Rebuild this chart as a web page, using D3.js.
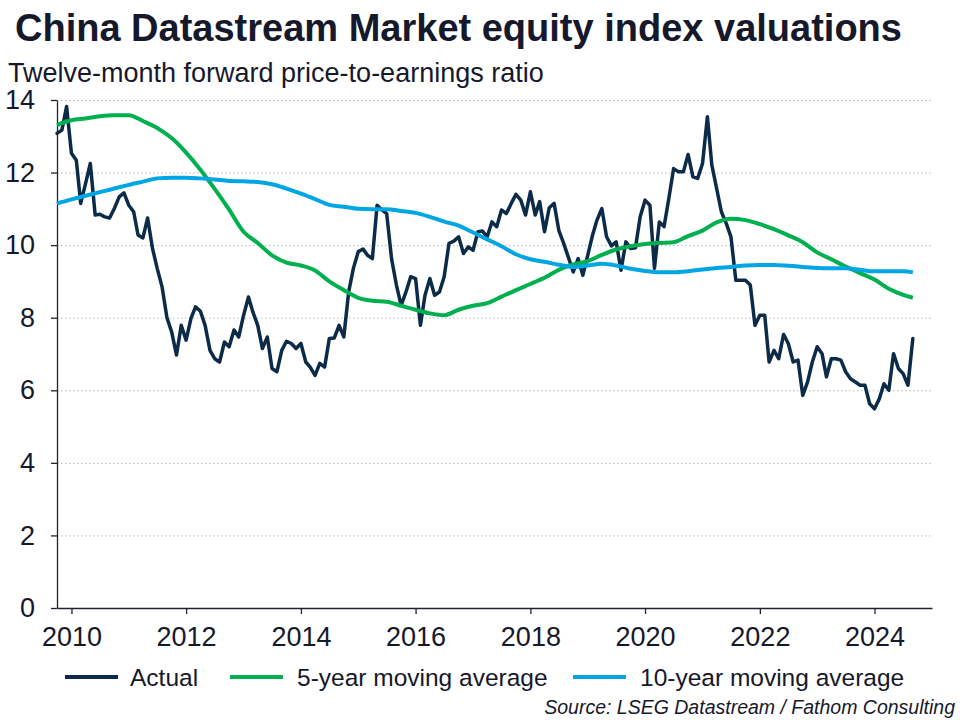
<!DOCTYPE html>
<html>
<head>
<meta charset="utf-8">
<script src="https://cdn.jsdelivr.net/npm/d3@7"></script>
<style>
  html, body { margin: 0; padding: 0; background: #ffffff; }
  svg { display: block; }
  text { font-family: "Liberation Sans", Arial, sans-serif; }
</style>
</head>
<body>
<svg id="chart" width="960" height="720"></svg>
<script>
// ---------------- DATA ----------------
const titleText = "China Datastream Market equity index valuations";
const subtitleText = "Twelve-month forward price-to-earnings ratio";
const sourceText = "Source: LSEG Datastream / Fathom Consulting";
const seriesNames = ["Actual", "5-year moving average", "10-year moving average"];
const seriesColors = ["#0c2b48", "#00b04f", "#00a6e4"];

// monthly, starting October 2009
const startYear = 2009, startMonth = 9;
const actual = [
  13.08, 13.17, 13.82, 12.53, 12.34, 11.15, 11.70, 12.25, 10.83, 10.85,
  10.78, 10.75, 11.01, 11.33, 11.44, 11.10, 10.92, 10.28, 10.20, 10.75,
  9.91, 9.36, 8.85, 8.00, 7.61, 6.97, 7.79, 7.38, 7.98, 8.30,
  8.18, 7.79, 7.10, 6.87, 6.78, 7.33, 7.20, 7.66, 7.47, 8.07,
  8.57, 8.16, 7.79, 7.15, 7.47, 6.60, 6.51, 7.10, 7.35, 7.29,
  7.15, 7.29, 6.78, 6.64, 6.41, 6.74, 6.64, 7.43, 7.44, 7.79,
  7.47, 8.71, 9.36, 9.82, 9.89, 9.72, 9.63, 11.10, 10.97, 10.87,
  9.63, 8.90, 8.34, 8.71, 9.13, 9.08, 7.79, 8.62, 9.08, 8.62,
  8.71, 9.13, 10.05, 10.11, 10.23, 9.77, 9.95, 9.86, 10.37, 10.39,
  10.23, 10.64, 10.51, 10.97, 10.87, 11.15, 11.40, 11.24, 10.83, 11.47,
  10.83, 11.20, 10.37, 11.03, 11.15, 10.41, 10.05, 9.65, 9.26, 9.63,
  9.17, 9.72, 10.28, 10.69, 11.01, 10.23, 9.98, 10.09, 9.31, 10.09,
  9.91, 9.93, 10.78, 11.24, 11.10, 9.36, 10.64, 10.51, 11.30, 12.11,
  12.02, 12.02, 12.50, 11.88, 11.84, 12.25, 13.54, 12.21, 11.56, 10.92,
  10.60, 10.23, 9.03, 9.03, 9.03, 8.90, 7.79, 8.07, 8.07, 6.78,
  7.10, 6.87, 7.54, 7.29, 6.78, 6.83, 5.86, 6.23, 6.78, 7.20,
  7.01, 6.37, 6.87, 6.87, 6.83, 6.51, 6.32, 6.23, 6.14, 6.14,
  5.63, 5.49, 5.77, 6.18, 6.00, 7.01, 6.60, 6.46, 6.14, 7.43
];

const maMonths = [0, 3, 6, 9, 12, 15, 18, 21, 24, 27, 30, 33, 36, 39, 42, 45, 48, 51, 54, 57,
  60, 63, 66, 69, 72, 75, 78, 81, 84, 87, 90, 93, 96, 99, 102, 105, 108, 111, 114, 117,
  120, 123, 126, 129, 132, 135, 138, 141, 144, 147, 150, 153, 156, 159, 162, 165, 168, 171, 174, 177, 179];
const ma5 = [
  13.31, 13.44, 13.49, 13.55, 13.58, 13.58, 13.42, 13.23, 12.95, 12.55,
  12.08, 11.55, 10.98, 10.37, 10.06, 9.72, 9.52, 9.44, 9.30, 9.00,
  8.76, 8.55, 8.47, 8.44, 8.33, 8.22, 8.12, 8.07, 8.22, 8.33,
  8.40, 8.58, 8.76, 8.93, 9.10, 9.32, 9.47, 9.56, 9.73, 9.88,
  9.97, 10.03, 10.06, 10.08, 10.25, 10.40, 10.63, 10.73, 10.69, 10.58,
  10.44, 10.27, 10.08, 9.80, 9.61, 9.41, 9.23, 9.05, 8.80, 8.63, 8.55
];
const ma10 = [
  11.15, 11.26, 11.36, 11.46, 11.56, 11.66, 11.75, 11.84, 11.86, 11.86,
  11.84, 11.81, 11.77, 11.76, 11.74, 11.68, 11.56, 11.42, 11.27, 11.11,
  11.06, 11.00, 10.99, 10.99, 10.94, 10.89, 10.78, 10.65, 10.54, 10.35,
  10.16, 9.97, 9.75, 9.61, 9.54, 9.46, 9.40, 9.44, 9.49, 9.44,
  9.35, 9.29, 9.25, 9.25, 9.28, 9.33, 9.37, 9.40, 9.44, 9.45,
  9.45, 9.43, 9.40, 9.37, 9.36, 9.36, 9.32, 9.28, 9.28, 9.28, 9.25
];

const yTicks = [0, 2, 4, 6, 8, 10, 12, 14];
const xTickYears = [2010, 2012, 2014, 2016, 2018, 2020, 2022, 2024];

// ---------------- CHART ----------------
const svg = d3.select("#chart");
svg.append("rect").attr("width", 960).attr("height", 720).attr("fill", "#ffffff");

const textColor = "#16182b";
const plot = { left: 57, right: 932, top: 100, bottom: 608 };

const x = d3.scaleTime()
  .domain([new Date(2009, 9, 1), new Date(2025, 0, 1)])
  .range([plot.left, plot.right]);
const y = d3.scaleLinear().domain([0, 14]).range([plot.bottom, plot.top]);

const monthDate = m => new Date(startYear, startMonth + m, 1);
const actualData = actual.map((v, i) => ({ date: monthDate(i), value: v }));
const ma5Data = ma5.map((v, i) => ({ date: monthDate(maMonths[i]), value: v }));
const ma10Data = ma10.map((v, i) => ({ date: monthDate(maMonths[i]), value: v }));

// titles
svg.append("text").attr("x", 15).attr("y", 41)
  .attr("font-size", 38).attr("font-weight", "bold").attr("fill", textColor)
  .text(titleText);
svg.append("text").attr("x", 8).attr("y", 82)
  .attr("font-size", 27).attr("fill", textColor)
  .text(subtitleText);

// gridlines
svg.append("g").selectAll("line")
  .data(yTicks.filter(t => t > 0))
  .join("line")
  .attr("x1", plot.left).attr("x2", plot.right)
  .attr("y1", d => y(d) + 0.5).attr("y2", d => y(d) + 0.5)
  .attr("stroke", "#b8b8b8").attr("stroke-width", 1)
  .attr("stroke-dasharray", "1.5,2.5");

// axes
const yAxis = svg.append("g")
  .attr("transform", `translate(${plot.left},0)`)
  .call(d3.axisLeft(y).tickValues(yTicks).tickFormat(d3.format("d"))
    .tickSize(6).tickSizeOuter(0).tickPadding(16));
const xAxis = svg.append("g")
  .attr("transform", `translate(0,${plot.bottom})`)
  .call(d3.axisBottom(x).tickValues(xTickYears.map(yy => new Date(yy, 0, 1)))
    .tickFormat(d3.timeFormat("%Y")).tickSize(6).tickSizeOuter(0).tickPadding(13));

[yAxis, xAxis].forEach(g => {
  g.select(".domain").attr("stroke", "#222233").attr("stroke-width", 1.3);
  g.selectAll(".tick line").attr("stroke", "#222233").attr("stroke-width", 1.3);
  g.selectAll(".tick text")
    .attr("fill", textColor)
    .attr("font-size", 27)
    .attr("font-family", "\"Liberation Sans\", Arial, sans-serif");
});

// lines
const line = d3.line().x(d => x(d.date)).y(d => y(d.value));
const smooth = d3.line().x(d => x(d.date)).y(d => y(d.value)).curve(d3.curveMonotoneX);

svg.append("path").datum(actualData)
  .attr("fill", "none").attr("stroke", seriesColors[0]).attr("stroke-width", 3.5)
  .attr("stroke-linejoin", "round").attr("stroke-linecap", "round")
  .attr("d", line);
svg.append("path").datum(ma5Data)
  .attr("fill", "none").attr("stroke", seriesColors[1]).attr("stroke-width", 4)
  .attr("stroke-linejoin", "round").attr("d", smooth);
svg.append("path").datum(ma10Data)
  .attr("fill", "none").attr("stroke", seriesColors[2]).attr("stroke-width", 4)
  .attr("stroke-linejoin", "round").attr("d", smooth);

// legend
const legendItems = [
  { x: 65, tx: 130 },
  { x: 230, tx: 297 },
  { x: 573, tx: 640 }
];
const lg = svg.append("g");
legendItems.forEach((it, i) => {
  lg.append("line").attr("x1", it.x).attr("x2", it.x + 53)
    .attr("y1", 677).attr("y2", 677)
    .attr("stroke", seriesColors[i]).attr("stroke-width", 4);
  lg.append("text").attr("x", it.tx).attr("y", 686)
    .attr("font-size", 24.5).attr("fill", textColor)
    .text(seriesNames[i]);
});

// source
svg.append("text").attr("x", 955).attr("y", 714)
  .attr("text-anchor", "end").attr("font-size", 19.5).attr("font-style", "italic")
  .attr("fill", textColor).text(sourceText);
</script>
</body>
</html>
